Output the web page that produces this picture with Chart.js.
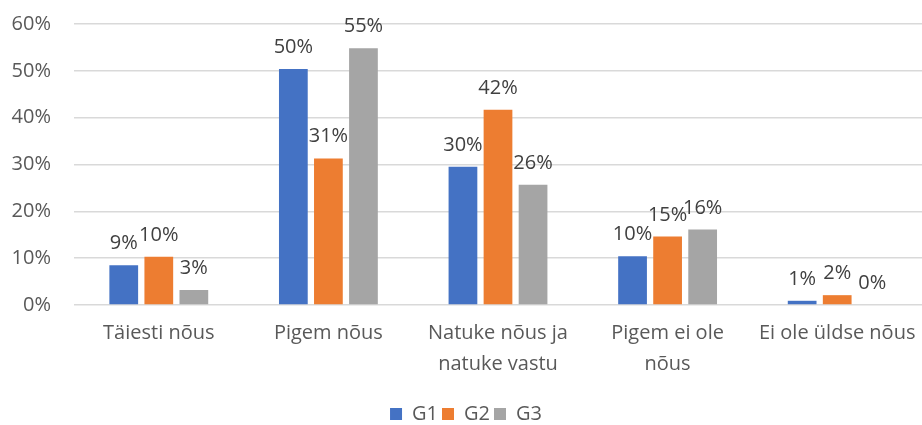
<!DOCTYPE html>
<html>
<head>
<meta charset="utf-8">
<script src="https://cdn.jsdelivr.net/npm/chart.js@4.4.0/dist/chart.umd.min.js"></script>
<style>
  html, body { margin: 0; padding: 0; background: #fff; }
  #wrap { width: 922px; height: 425px; }
</style>
</head>
<body>
<div id="wrap"><canvas id="barChart"></canvas></div>
<script>
// kategooriad ja grupid
const categories = [
  "Täiesti nõus",
  "Pigem nõus",
  ["Natuke nõus ja", "natuke vastu"],
  ["Pigem ei ole", "nõus"],
  "Ei ole üldse nõus",
];
const g1 = [8.5, 50.4, 29.5, 10.4, 0.9];
const g2 = [10.3, 31.3, 41.7, 14.6, 2.1];
const g3 = [3.2, 54.8, 25.7, 16.1, 0];
const yTicks = [0, 10, 20, 30, 40, 50, 60];

const textColor = "#595959";
const fontFamily = "'Open Sans', 'Noto Sans', sans-serif";
const fontSize = 20;

// väärtuste sildid tulpade kohal
const barLabels = {
  id: "barLabels",
  afterDatasetsDraw(chart) {
    const ctx = chart.ctx;
    ctx.save();
    ctx.font = fontSize + "px " + fontFamily;
    ctx.fillStyle = "#404040";
    ctx.textAlign = "center";
    ctx.textBaseline = "alphabetic";
    chart.data.datasets.forEach(function (ds, i) {
      const meta = chart.getDatasetMeta(i);
      meta.data.forEach(function (bar, j) {
        ctx.fillText(Math.round(ds.data[j]) + "%", bar.x, bar.y - 16);
      });
    });
    ctx.restore();
  },
};

const ctxBar = document.getElementById("barChart").getContext("2d");
const barChart = new Chart(ctxBar, {
  type: "bar",
  data: {
    labels: categories,
    datasets: [
      { label: "G1", data: g1, backgroundColor: "#4472C4" },
      { label: "G2", data: g2, backgroundColor: "#ED7D31" },
      { label: "G3", data: g3, backgroundColor: "#A5A5A5" },
    ],
  },
  options: {
    responsive: true,
    maintainAspectRatio: false,
    animation: false,
    categoryPercentage: 0.62,
    barPercentage: 0.82,
    layout: { padding: { top: 24, right: 0, left: 10, bottom: -9 } },
    plugins: {
      tooltip: { enabled: false },
      legend: {
        position: "bottom",
        labels: {
          color: textColor,
          font: { size: fontSize, family: fontFamily },
          boxWidth: 12,
          boxHeight: 12,
          padding: 4,
        },
      },
    },
    scales: {
      x: {
        grid: { display: false },
        border: { display: false },
        afterFit: function (axis) {
          axis.height = 95;
          axis.paddingLeft = 0;
          axis.paddingRight = 0;
        },
        ticks: {
          color: textColor,
          font: { size: fontSize, family: fontFamily, lineHeight: 1.55 },
          maxRotation: 0,
          autoSkip: false,
          padding: 5,
        },
      },
      y: {
        min: 0,
        max: 60,
        afterBuildTicks: function (axis) {
          axis.ticks = yTicks.map(function (v) { return { value: v }; });
        },
        afterFit: function (axis) {
          axis.width = 64;
          axis.paddingTop = 0;
          axis.paddingBottom = 0;
        },
        grid: { color: "#D9D9D9", lineWidth: 1.5, drawTicks: false },
        border: { display: false },
        ticks: {
          color: textColor,
          font: { size: fontSize, family: fontFamily },
          padding: 23,
          callback: function (value) {
            return value + "%";
          },
        },
      },
    },
  },
  plugins: [barLabels],
});
</script>
</body>
</html>
